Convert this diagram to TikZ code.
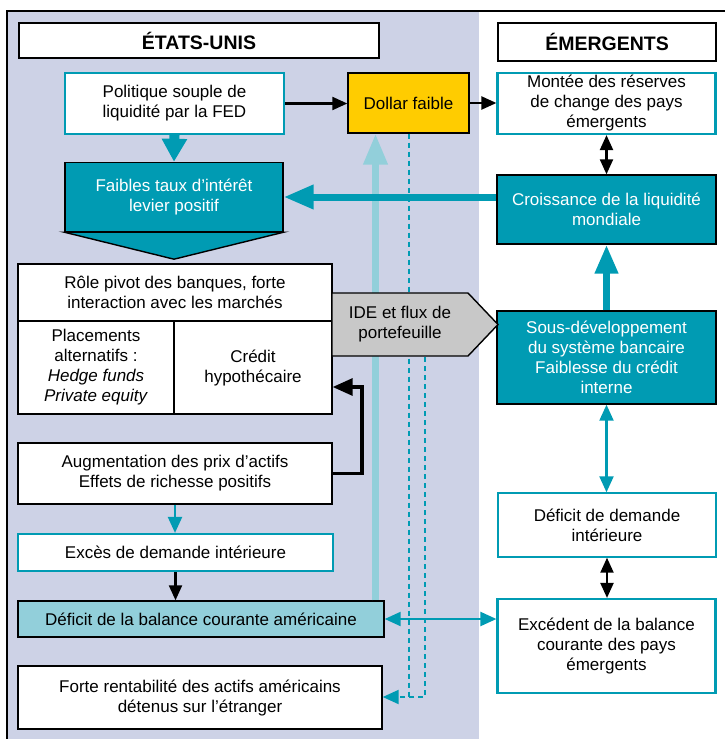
\documentclass[tikz,border=0pt]{standalone}
\usepackage{fontspec}
\setmainfont{Liberation Sans}
\usetikzlibrary{arrows.meta,calc}
\definecolor{teal1}{RGB}{0,155,179}
\definecolor{lteal}{RGB}{146,207,218}
\definecolor{lav}{RGB}{205,210,230}
\definecolor{gold}{RGB}{255,204,0}
\definecolor{grayb}{RGB}{200,200,200}
\tikzset{
  bhead/.tip={Triangle[length=15pt,width=13pt]},
  thead/.tip={Triangle[length=16pt,width=14pt]},
  box/.style={draw=black,line width=1.4pt,fill=white,align=center,inner sep=0pt,text=black},
  tbox/.style={box,draw=teal1,line width=2.2pt},
  dbox/.style={box,fill=teal1,text=white},
  hdr/.style={box,font=\bfseries\fontsize{19.5}{22}\selectfont},
  blk/.style={line width=2.2pt,draw=black},
  thin teal/.style={line width=2.2pt,draw=teal1},
  dashline/.style={line width=2pt,draw=teal1,dash pattern=on 5pt off 4pt}}
\begin{document}
\begin{tikzpicture}[x=1pt,y=-1pt,font=\fontsize{17}{20}\selectfont]
\useasboundingbox (0,0) rectangle (725,739);
\fill[lav] (7,11) rectangle (479,739);
\draw[line width=1.4pt] (725,11) -- (7,11) -- (7,739);

% headers
\node[hdr,minimum width=360pt,minimum height=35pt] (us) at (199,40.5) {ÉTATS-UNIS};
\node[hdr,minimum width=218pt,minimum height=38pt] (em) at (607,42) {ÉMERGENTS};

% left column
\node[tbox,minimum width=219pt,minimum height=61pt] (pol) at (174.5,103.5) {Politique souple de\\liquidité par la FED};
\node[box,fill=gold,minimum width=121pt,minimum height=60pt] (dollar) at (408.5,103) {Dollar faible};
\node[dbox,minimum width=218pt,minimum height=69pt] (faibles) at (174,197) {Faibles taux d’intérêt\\levier positif};
\filldraw[fill=teal1,draw=black,line width=1.4pt] (faibles.south west) -- (faibles.south east) -- ($(faibles.south)+(0,27)$) -- cycle;
\node[box,minimum width=314pt,minimum height=57pt] (role) at (175,292.5) {Rôle pivot des banques, forte\\interaction avec les marchés};
\node[box,minimum width=156pt,minimum height=93pt] (plac) at (96,367.5) {Placements\\alternatifs :\\\textit{Hedge funds}\\\textit{Private equity}};
\node[box,minimum width=158pt,minimum height=93pt] (credit) at (253,367.5) {Crédit\\hypothécaire};
\node[box,minimum width=314pt,minimum height=61pt] (augm) at (175,473.5) {Augmentation des prix d’actifs\\Effets de richesse positifs};
\node[tbox,minimum width=315pt,minimum height=37pt] (exces) at (175.5,552.5) {Excès de demande intérieure};
\node[box,fill=lteal,minimum width=366pt,minimum height=36pt] (defbal) at (201,619) {Déficit de la balance courante américaine};
\node[box,minimum width=364pt,minimum height=63pt] (forte) at (200,697.5) {Forte rentabilité des actifs américains\\détenus sur l’étranger};

% right column
\node[tbox,minimum width=218pt,minimum height=61pt] (montee) at (606.5,103.5) {\raisebox{-2pt}{\begin{tabular}{@{}c@{}}Montée des réserves\\de change des pays\\émergents\end{tabular}}};
\node[dbox,minimum width=219pt,minimum height=69pt] (croiss) at (606.5,209.5) {Croissance de la liquidité\\mondiale};
\node[dbox,minimum width=219pt,minimum height=93pt] (sous) at (606.5,357.5) {Sous-développement\\du système bancaire\\Faiblesse du crédit\\interne};
\node[box,draw=teal1,minimum width=218pt,minimum height=64pt] (defdem) at (607,525) {Déficit de demande\\intérieure};
\node[tbox,minimum width=218pt,minimum height=94pt] (exced) at (606.5,646) {Excédent de la balance\\courante des pays\\émergents};

% coordinates
\coordinate (lt) at (375.5,0);
\coordinate (d2top) at (425,357);
\coordinate (d2bot) at (425,697);
\coordinate (elb) at (362,387);

% dashed lines
\draw[dashline] (dollar.south) -- (dollar.south |- d2bot);
\draw[dashline,-{thead}] (d2top) -- (d2bot) -- (forte.east |- d2bot);

% light teal vertical
\draw[lteal,line width=7pt,-{Triangle[length=31pt,width=23pt]}] (defbal.north -| lt) -- (dollar.south -| lt);

% thick teal arrows
\draw[teal1,line width=10pt,-{Triangle[length=23pt,width=24pt]}] (pol.south) -- (faibles.north);
\draw[teal1,line width=7pt,-{Triangle[length=30pt,width=23pt]}] (croiss.west |- faibles.east) -- (faibles.east);
\draw[teal1,line width=7pt,-{Triangle[length=29pt,width=22pt]}] (sous.north) -- (croiss.south);

% black arrows
\draw[blk,-{bhead}] (pol.east) -- (pol.east -| dollar.west);
\draw[blk,-{bhead}] (dollar.east) -- (dollar.east -| montee.west);
\draw[blk,{bhead}-{bhead}] (montee.south) -- (croiss.north);
\draw[blk,{bhead}-{bhead}] (defdem.south) -- (defdem.south |- exced.north);
\draw[blk,-{bhead}] (exces.south) -- (exces.south |- defbal.north);
\draw[line width=3.2pt,line join=miter,-{Triangle[length=20pt,width=17pt]}] (augm.east) -| (elb) -- (elb -| credit.east);

% thin teal arrows
\draw[thin teal,-{thead}] (augm.south) -- (augm.south |- exces.north);
\draw[thin teal,{thead}-{thead}] (sous.south) -- (sous.south |- defdem.north);
\draw[thin teal,{thead}-{thead}] (defbal.east) -- (defbal.east -| exced.west);

% IDE shape
\filldraw[fill=grayb,draw=black,line width=1.4pt] (332,293) -- (468,293) -- (498,324.5) -- (468,356) -- (332,356) -- cycle;
\node[align=center,inner sep=0pt] (ide) at (400,324.5) {IDE et flux de\\portefeuille};
\end{tikzpicture}
\end{document}
